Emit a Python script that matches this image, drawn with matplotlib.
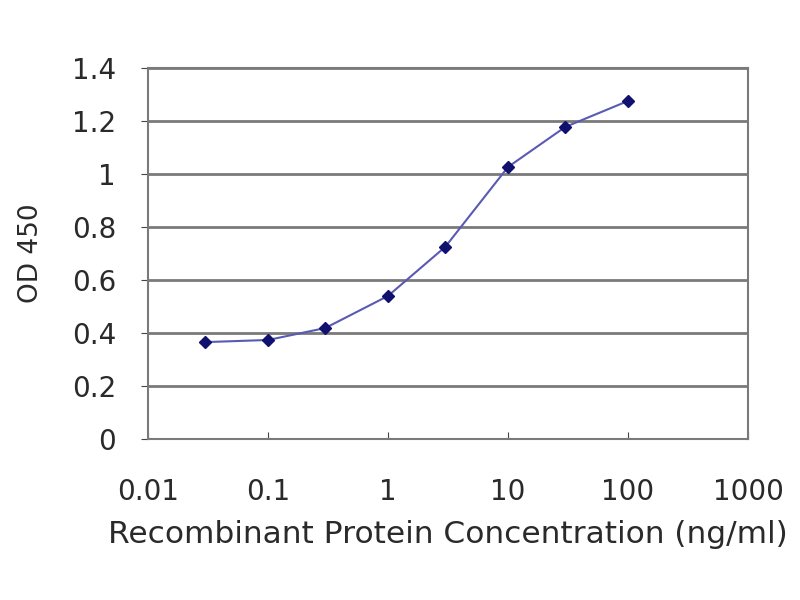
import matplotlib
matplotlib.use('Agg')
import matplotlib.pyplot as plt
from matplotlib.ticker import FixedLocator, NullLocator

plt.rcParams['font.family'] = ['DejaVu Sans']

# ELISA standard curve
conc = [0.03, 0.1, 0.3, 1, 3, 10, 30, 100]
od450 = [0.366, 0.374, 0.419, 0.54, 0.725, 1.026, 1.177, 1.275]
x_ticks = [0.01, 0.1, 1, 10, 100, 1000]
x_labels = ['0.01', '0.1', '1', '10', '100', '1000']
y_ticks = [0, 0.2, 0.4, 0.6, 0.8, 1, 1.2, 1.4]
y_labels = ['0', '0.2', '0.4', '0.6', '0.8', '1', '1.2', '1.4']

fig = plt.figure(figsize=(8, 6), dpi=100)
ax = fig.add_axes([0.185, 0.268, 0.75, 0.619])

ax.plot(conc, od450, color='#5a5ab4', linewidth=1.5, zorder=3)
ax.plot(conc, od450, linestyle='none', marker='D', markersize=6,
        color='#10106e', zorder=4)

ax.set_xscale('log')
ax.set_xlim(0.01, 1000)
ax.set_ylim(0, 1.4)
ax.xaxis.set_major_locator(FixedLocator(x_ticks))
ax.xaxis.set_minor_locator(NullLocator())
ax.set_xticklabels(x_labels)
ax.set_yticks(y_ticks)
ax.set_yticklabels(y_labels)

ax.grid(axis='y', color='#7a7a7a', linewidth=2)
ax.set_axisbelow(True)
for s in ax.spines.values():
    s.set_color('#7a7a7a')
    s.set_linewidth(1.5)

ax.tick_params(axis='x', direction='in', length=5, color='#444444',
               labelsize=20, labelcolor='#2a2a2a', pad=28)
ax.tick_params(axis='y', direction='out', length=5, color='#444444',
               labelsize=20, labelcolor='#2a2a2a', pad=18)

ax.set_xlabel('Recombinant Protein Concentration (ng/ml)', fontsize=22.5,
              color='#2a2a2a', labelpad=10)
ax.set_ylabel('OD 450', fontsize=19, color='#2a2a2a', labelpad=20)

fig.savefig('out.png', dpi=100)
